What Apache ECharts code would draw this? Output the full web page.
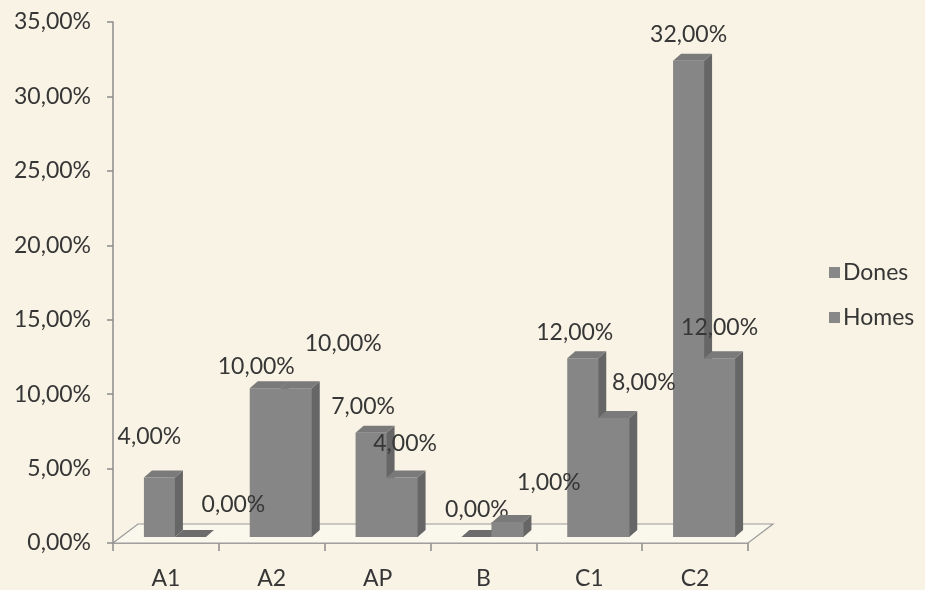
<!DOCTYPE html>
<html>
<head>
<meta charset="utf-8">
<script src="https://cdn.jsdelivr.net/npm/echarts@6/dist/echarts.min.js"></script>
<style>
  html, body { margin: 0; padding: 0; background: #f8f3e4; }
  #chart { width: 925px; height: 590px; }
</style>
</head>
<body>
<div id="chart"></div>
<script>
// Categories and the two series (percent values)
const categories = ['A1', 'A2', 'AP', 'B', 'C1', 'C2'];
const dones = [4, 10, 7, 0, 12, 32];
const homes = [0, 10, 4, 1, 8, 12];
const seriesNames = ['Dones', 'Homes'];
const yTicks = { min: 0, max: 35, step: 5 };

// Value label nudges (pixels, relative to the top-front centre of each bar)
const donesLabelShift = [[-10, -41], [-9, -22], [-8, -26], [0, -27], [-8, -26], [0, -26]];
const homesLabelShift = [[43, -32], [47, -45], [3, -34], [41, -40], [30, -35], [0, -31]];

const FONT = 'Lato, "Open Sans", sans-serif';
const FONT_SIZE = 23;
const TEXT = '#363636';
const pct = v => v.toFixed(2).replace('.', ',') + '%';

// Pseudo-3D geometry
const FLOOR_DX = 25, FLOOR_DY = -19;   // depth of the floor
const BAR_SHIFT_X = 9, BAR_SHIFT_Y = -6; // bars stand part-way back on the floor
const BAR_DX = 8, BAR_DY = -7;         // depth of each bar
const BAR_FRAC = 0.293;                // bar width as a share of the category band

function barRenderer(seriesIdx, shifts) {
  return function (params, api) {
    const idx = api.value(0);
    const v = api.value(1);
    const base = api.coord([idx, 0]);
    const topPt = api.coord([idx, v]);
    const band = api.size([1, 0])[0];
    const w = band * BAR_FRAC;
    const cx = base[0] + BAR_SHIFT_X;
    const x0 = seriesIdx === 0 ? cx - w : cx;
    const x1 = x0 + w;
    const by = base[1] + BAR_SHIFT_Y;
    const ty = topPt[1] + BAR_SHIFT_Y;
    const s = shifts[idx];
    // the right-hand bar's front overlaps its neighbour slightly to hide the seam
    const overlap = seriesIdx === 1 ? 1 : 0;
    const children = [
      {
        type: 'rect',
        shape: { x: x0 - overlap, y: ty, width: w + overlap + 0.5, height: by - ty },
        style: { fill: '#868686' }
      },
      {
        type: 'polygon',
        shape: { points: [[x1, ty], [x1 + BAR_DX, ty + BAR_DY], [x1 + BAR_DX, by + BAR_DY], [x1, by]] },
        style: { fill: '#666666' }
      },
      {
        type: 'polygon',
        shape: { points: [[x0, ty], [x0 + BAR_DX, ty + BAR_DY], [x1 + BAR_DX, ty + BAR_DY], [x1, ty]] },
        style: { fill: v === 0 ? '#6c6c6c' : '#7a7a7a' }
      },
      {
        type: 'text',
        z2: 10,
        style: {
          x: (x0 + x1) / 2 + s[0],
          y: ty + s[1],
          text: pct(v),
          fill: TEXT,
          font: FONT_SIZE + 'px ' + FONT,
          align: 'center',
          verticalAlign: 'middle'
        }
      }
    ];
    return { type: 'group', children };
  };
}

const chart = echarts.init(document.getElementById('chart'), null, { renderer: 'canvas' });

chart.setOption({
  backgroundColor: '#f8f3e4',
  animation: false,
  grid: { left: 113, right: 177, top: 22, bottom: 47, containLabel: false },
  legend: {
    orient: 'vertical',
    left: 824,
    top: 256,
    itemWidth: 11,
    itemHeight: 11,
    itemGap: 22,
    icon: 'rect',
    data: seriesNames,
    textStyle: { fontFamily: FONT, fontSize: FONT_SIZE, color: TEXT, padding: [0, 0, 0, -2] }
  },
  xAxis: {
    type: 'category',
    data: categories,
    boundaryGap: true,
    axisLine: { lineStyle: { color: '#8c8c8c', width: 1.5 } },
    axisTick: { show: true, length: 8, lineStyle: { color: '#8c8c8c', width: 1.5 } },
    axisLabel: { margin: 24, fontFamily: FONT, fontSize: FONT_SIZE, color: TEXT }
  },
  yAxis: {
    type: 'value',
    min: yTicks.min,
    max: yTicks.max,
    interval: yTicks.step,
    axisLine: { show: true, lineStyle: { color: '#8c8c8c', width: 1.5 } },
    axisTick: { show: true, length: 6, lineStyle: { color: '#8c8c8c', width: 1.5 } },
    splitLine: { show: false },
    axisLabel: { margin: 22, fontFamily: FONT, fontSize: FONT_SIZE, color: TEXT, formatter: v => pct(v) }
  },
  series: [
    {
      // floor of the 3D plot area
      type: 'custom',
      silent: true,
      z: 1,
      data: [[0, 0]],
      renderItem: function (params) {
        const cs = params.coordSys;
        const x = cs.x, y = cs.y + cs.height, w = cs.width;
        return {
          type: 'polygon',
          shape: { points: [[x, y], [x + w, y], [x + w + FLOOR_DX, y + FLOOR_DY], [x + FLOOR_DX, y + FLOOR_DY]] },
          style: { fill: '#faf7ec', stroke: '#9a9a9a', lineWidth: 1.2 }
        };
      }
    },
    {
      name: seriesNames[0],
      type: 'custom',
      z: 3,
      itemStyle: { color: '#888888' },
      data: dones.map((v, i) => [i, v]),
      renderItem: barRenderer(0, donesLabelShift)
    },
    {
      name: seriesNames[1],
      type: 'custom',
      z: 4,
      itemStyle: { color: '#888888' },
      data: homes.map((v, i) => [i, v]),
      renderItem: barRenderer(1, homesLabelShift)
    }
  ]
});
</script>
</body>
</html>
